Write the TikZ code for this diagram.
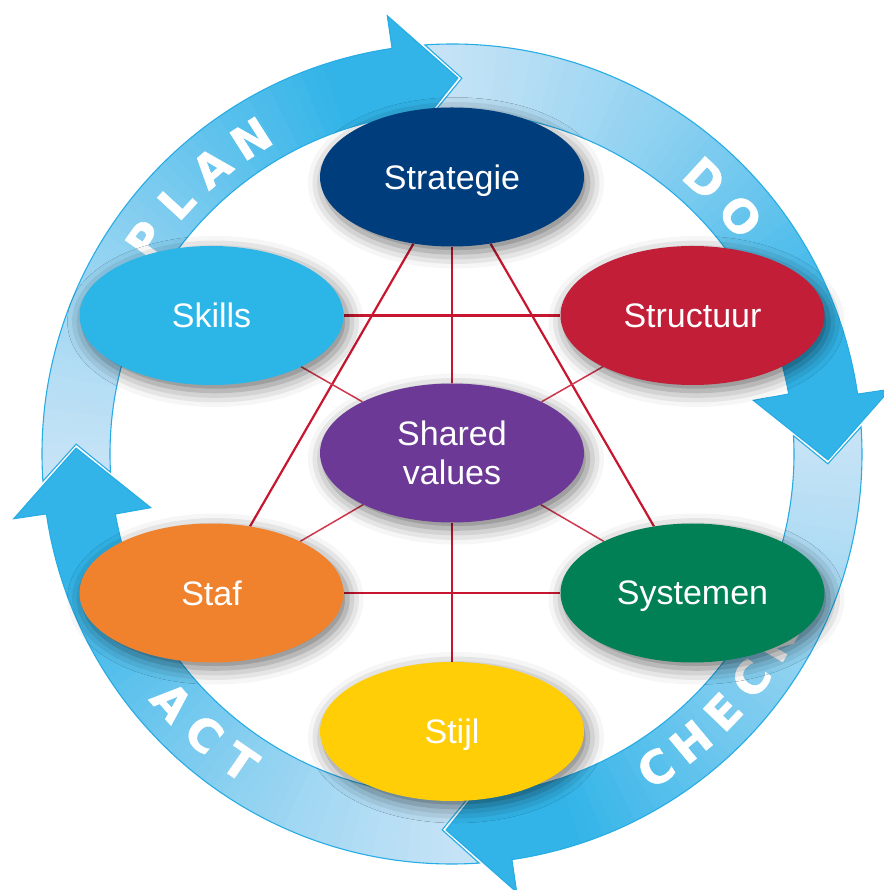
\documentclass[tikz,border=0pt]{standalone}
\usepackage{fontspec}
\setmainfont{Liberation Sans}
\newfontfamily\ringfont[FakeBold=1.2]{DejaVu Sans Bold}
\usetikzlibrary{shapes.geometric,backgrounds,shadows.blur}

\definecolor{armpale}{RGB}{198,227,246}
\definecolor{armsat}{RGB}{50,180,232}
\definecolor{armline}{RGB}{40,172,228}
\definecolor{linkred}{RGB}{200,22,48}
\definecolor{cStrat}{RGB}{0,61,124}
\definecolor{cSkills}{RGB}{44,182,232}
\definecolor{cStruct}{RGB}{194,30,56}
\definecolor{cShared}{RGB}{108,58,150}
\definecolor{cStaf}{RGB}{241,130,45}
\definecolor{cSys}{RGB}{0,128,84}
\definecolor{cStijl}{RGB}{255,206,6}

% #1 = tail angle (tip of previous arrow), #2 = tip angle
\newcommand\pdcaArrowPath[2]{%
  ({#1+4.7}:410) arc[start angle={#1+4.7}, end angle={#2+9.3}, radius=410]
  -- ({#2+9.3}:443) -- ({#2}:376) -- ({#2+11}:306) -- ({#2+11}:342)
  arc[start angle={#2+11}, end angle={#1+3.95}, radius=342]
  -- ({#1-0.6}:376) -- cycle}

\newcommand\pdcaArrow[2]{%
  \begin{scope}
    \clip \pdcaArrowPath{#1}{#2};
    \pgfmathsetmacro\arcspan{(#1)-(#2)+8}
    \foreach \i in {0,...,59} {
      \pgfmathsetmacro\aa{(#1)+6-\i*\arcspan/60}
      \pgfmathsetmacro\ab{\aa-\arcspan/60-0.4}
      \pgfmathtruncatemacro\pp{min(100,(\i/60)^1.3*100/0.72)}
      \fill[armsat!\pp!armpale] (0,0) -- (\aa:480) -- (\ab:480) -- cycle;
    }
  \end{scope}
  \draw[armedge] \pdcaArrowPath{#1}{#2};
}

\tikzset{
  armedge/.style={draw=armline, line width=1.1pt, line join=miter},
  ringtxt/.style={text=white, font=\fontsize{45}{45}\ringfont, inner sep=0pt, anchor=center},
  ell/.style={ellipse, minimum width=264pt, minimum height=139pt, inner sep=0pt,
    text=white, font=\fontsize{34}{39}\selectfont, align=center, text depth=0pt,
    blur shadow={shadow xshift=4pt, shadow yshift=-6pt, shadow blur radius=16pt, shadow opacity=55}},
  link/.style={draw=linkred, line width=2.2pt},
  thinlink/.style={draw=linkred!85!white, line width=1.5pt}
}

\begin{document}
\begin{tikzpicture}[x=1pt,y=1pt]
\useasboundingbox (-452,-436) rectangle (431,454);

% PDCA ring
\pdcaArrow{179.1}{89.1}
\pdcaArrow{89.1}{-0.9}
\pdcaArrow{-0.9}{-90.9}
\pdcaArrow{-90.9}{-180.9}

% ring labels
\foreach \ch/\ang [count=\k] in {P/145, L/137.5, A/130, N/122.5}
  \node[ringtxt, rotate=\ang-90] (plan\k) at (\ang:374) {\ch};
\foreach \ch/\ang [count=\k] in {D/47.5, O/39.5}
  \node[ringtxt, rotate=\ang-90] (do\k) at (\ang:374) {\ch};
\foreach \ch/\ang [count=\k] in {C/-57, H/-50.3, E/-43.6, C/-36.9, K/-30.2}
  \node[ringtxt, rotate=\ang+90] (check\k) at (\ang:374) {\ch};
\foreach \ch/\ang [count=\k] in {A/-138.5, C/-131.5, T/-124.5}
  \node[ringtxt, rotate=\ang+90] (act\k) at (\ang:374) {\ch};

% 7S ellipses
\node[ell, fill=cStrat]  (strat)  at (0,277)        {Strategie};
\node[ell, fill=cSkills] (skills) at (-240.5,138.5) {Skills};
\node[ell, fill=cStruct] (struct) at (240.5,138.5)  {Structuur};
\node[ell, fill=cShared] (shared) at (0,1)          {Shared\\values};
\node[ell, fill=cStaf]   (staf)   at (-240.5,-139)  {Staf};
\node[ell, fill=cSys]    (sys)    at (240.5,-139)   {Systemen};
\node[ell, fill=cStijl]  (stijl)  at (0,-277.5)     {Stijl};

% connectors
\begin{pgfonlayer}{background}
  \draw[link] (strat) -- (staf);
  \draw[link] (strat) -- (sys);
  \draw[link] (strat) -- (shared);
  \draw[link] (shared) -- (stijl);
  \draw[link] (skills) -- (struct);
  \draw[link] (staf) -- (sys);
  \draw[thinlink] (skills) -- (shared);
  \draw[thinlink] (struct) -- (shared);
  \draw[thinlink] (staf) -- (shared);
  \draw[thinlink] (sys) -- (shared);
\end{pgfonlayer}
\end{tikzpicture}
\end{document}
